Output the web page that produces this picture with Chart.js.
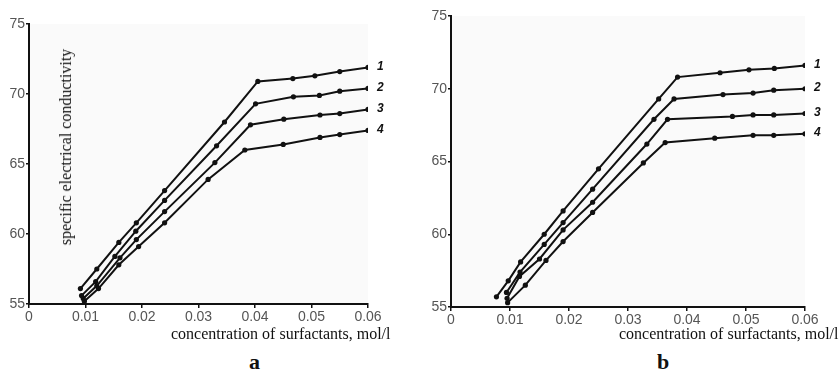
<!DOCTYPE html>
<html><head><meta charset="utf-8">
<script src="https://cdn.jsdelivr.net/npm/chart.js@4/dist/chart.umd.min.js"></script>
<style>
html,body{margin:0;padding:0;background:#fff;width:839px;height:371px;overflow:hidden;position:relative}
.c{position:absolute;top:0}
.t{position:absolute;font-family:"Liberation Serif","Times New Roman",serif;color:#111;white-space:nowrap}
</style></head><body>
<div class="c" style="left:0;width:420px;height:330px"><canvas id="ca"></canvas></div>
<div class="c" style="left:420px;width:419px;height:330px"><canvas id="cb"></canvas></div>
<div class="t" style="left:66px;top:147px;font-size:16px;transform:translate(-50%,-50%) rotate(-90deg)">specific electrical conductivity</div>
<div class="t" style="left:171px;top:325px;font-size:16px">concentration of surfactants, mol/l</div>
<div class="t" style="left:619px;top:325px;font-size:16px">concentration of surfactants, mol/l</div>
<div class="t" style="left:249px;top:349px;font-size:22px;font-weight:bold">a</div>
<div class="t" style="left:657px;top:349px;font-size:22px;font-weight:bold">b</div>
<script>
// Panel a
const concA1=[0.0091,0.0120,0.0159,0.0190,0.0240,0.0346,0.0405,0.0467,0.0506,0.0550,0.0600];
const condA1=[56.1,57.5,59.4,60.8,63.1,68.0,70.9,71.1,71.3,71.6,71.9];
const concA2=[0.0093,0.0118,0.0152,0.0189,0.0240,0.0332,0.0401,0.0468,0.0514,0.0550,0.0600];
const condA2=[55.6,56.6,58.4,60.2,62.4,66.3,69.3,69.8,69.9,70.2,70.4];
const concA3=[0.0096,0.0120,0.0161,0.0190,0.0240,0.0329,0.0392,0.0451,0.0515,0.0550,0.0600];
const condA3=[55.4,56.3,58.3,59.6,61.6,65.1,67.8,68.2,68.5,68.6,68.9];
const concA4=[0.0098,0.0123,0.0159,0.0194,0.0240,0.0317,0.0382,0.0450,0.0515,0.0550,0.0600];
const condA4=[55.2,56.1,57.8,59.1,60.8,63.9,66.0,66.4,66.9,67.1,67.4];
// Panel b
const concB1=[0.0077,0.0097,0.0118,0.0158,0.0190,0.0250,0.0352,0.0384,0.0456,0.0505,0.0548,0.0600];
const condB1=[55.7,56.8,58.1,60.0,61.6,64.5,69.3,70.8,71.1,71.3,71.4,71.6];
const concB2=[0.0094,0.0117,0.0158,0.0190,0.0240,0.0344,0.0378,0.0461,0.0512,0.0547,0.0600];
const condB2=[56.0,57.4,59.3,60.8,63.1,67.9,69.3,69.6,69.7,69.9,70.0];
const concB3=[0.0095,0.0116,0.0150,0.0190,0.0240,0.0332,0.0367,0.0477,0.0512,0.0547,0.0600];
const condB3=[55.6,57.1,58.3,60.3,62.2,66.2,67.9,68.1,68.2,68.2,68.3];
const concB4=[0.0096,0.0126,0.0161,0.0190,0.0240,0.0326,0.0363,0.0447,0.0512,0.0547,0.0600];
const condB4=[55.3,56.5,58.2,59.5,61.5,64.9,66.3,66.6,66.8,66.8,66.9];
const seriesLabels=['1','2','3','4'];
const yTicks=[55,60,65,70,75];
const xTicks=[0,0.01,0.02,0.03,0.04,0.05,0.06];

function pts(xs,ys){return xs.map((x,i)=>({x:x,y:ys[i]}));}

const endLabels={id:'endLabels',afterDatasetsDraw(chart){
  const ctx=chart.ctx;ctx.save();
  ctx.font='bold italic 12px "Liberation Sans", Arial, sans-serif';
  ctx.fillStyle='#111';ctx.textBaseline='middle';ctx.textAlign='left';
  chart.data.datasets.forEach((ds,i)=>{
    const meta=chart.getDatasetMeta(i);const p=meta.data[meta.data.length-1];
    ctx.fillText(ds.label,p.x+9,p.y-1);
  });
  ctx.restore();
}};
const bg={id:'bg',beforeDraw(chart){
  const a=chart.chartArea,ctx=chart.ctx;ctx.save();ctx.fillStyle='#fafafa';
  ctx.fillRect(a.left,a.top,a.right-a.left,a.bottom-a.top);ctx.restore();
}};

function make(id,sets,yw,padR,padT,xh){
  const ds=sets.map((s,i)=>({label:seriesLabels[i],data:pts(s[0],s[1]),borderColor:'#111',backgroundColor:'#111',
    borderWidth:2,pointRadius:2.6,pointBorderWidth:0,tension:0}));
  return new Chart(document.getElementById(id),{type:'line',data:{datasets:ds},
    plugins:[bg,endLabels],
    options:{responsive:true,maintainAspectRatio:false,animation:false,
      layout:{padding:{left:0,right:padR,top:padT,bottom:0}},
      plugins:{legend:{display:false},tooltip:{enabled:false}},
      scales:{
        x:{type:'linear',min:0,max:0.06,
          afterBuildTicks:s=>{s.ticks=xTicks.map(v=>({value:v}));},
          afterFit:s=>{s.height=xh;},
          ticks:{callback:v=>v===0?'0':v.toFixed(2),color:'#555',font:{family:'"Liberation Sans", Arial, sans-serif',size:14},padding:1,maxRotation:0,autoSkip:false},
          grid:{drawOnChartArea:false,drawTicks:true,tickLength:4,color:'#111',lineWidth:1.5},
          border:{display:true,color:'#111',width:2}},
        y:{type:'linear',min:55,max:75,
          afterBuildTicks:s=>{s.ticks=yTicks.map(v=>({value:v}));},
          afterFit:s=>{s.width=yw;},
          ticks:{color:'#555',font:{family:'"Liberation Sans", Arial, sans-serif',size:14},padding:1},
          grid:{drawOnChartArea:false,drawTicks:true,tickLength:3,color:'#111',lineWidth:1.5},
          border:{display:true,color:'#111',width:2}}
      }}});
}
make('ca',[[concA1,condA1],[concA2,condA2],[concA3,condA3],[concA4,condA4]],29,52,24,26);
make('cb',[[concB1,condB1],[concB2,condB2],[concB3,condB3],[concB4,condB4]],31,34,16,23);
</script></body></html>
